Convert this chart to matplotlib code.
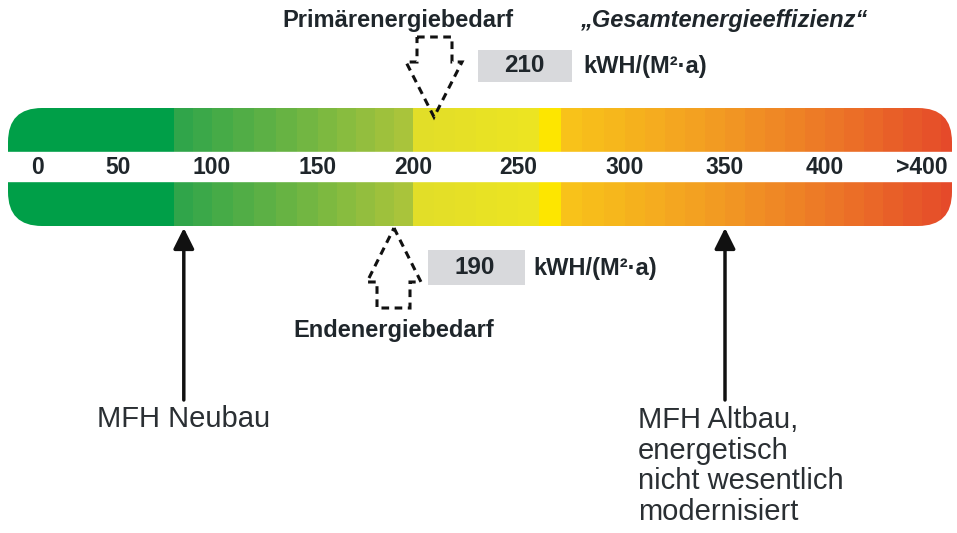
import numpy as np
import matplotlib
matplotlib.use("Agg")
import matplotlib.pyplot as plt
from matplotlib import transforms
from matplotlib.patches import FancyBboxPatch, Rectangle, Polygon
from matplotlib.colors import to_rgb, ListedColormap

# ---------------- data ----------------
tick_values = [0, 50, 100, 150, 200, 250, 300, 350, 400, 450]
tick_labels = ["0", "50", "100", "150", "200", "250", "300", "350", "400", ">400"]
primary_value = 210
final_value = 190
unit_label = "kWH/(M²·a)"
primary_title = "Primärenergiebedarf"
final_title = "Endenergiebedarf"
scale_title = "„Gesamtenergieeffizienz“"
building_values = [85, 350]
building_labels = ["MFH Neubau",
                   "MFH Altbau,\nenergetisch\nnicht wesentlich\nmodernisiert"]

# ---------------- layout / style ----------------
W, H = 957, 533
knot_values = [-24] + tick_values + [468]
knot_px = [0, 38, 118, 212, 318, 413, 518, 625, 725, 825, 922, 957]
color_stops = [(-30, "#009f48"), (80, "#009f48"), (85, "#30a54a"),
               (195, "#a9c43b"), (205, "#e2de28"), (255, "#ece422"),
               (265, "#fde600"), (275, "#f8c21a"), (345, "#f29b22"),
               (405, "#ec7527"), (470, "#e4462a")]
FONT = "Liberation Sans"
DARK = "#1f262b"
TICK_FS = 16.5
BOLD_FS = 17
NUM_FS = 17.5
BIG_FS = 21


def fwd(v):
    return np.interp(v, knot_values, knot_px)


def inv(p):
    return np.interp(p, knot_px, knot_values)


fig = plt.figure(figsize=(W / 100, H / 100), dpi=100)
ax = fig.add_axes([0, 0, 1, 1])
ax.set_xscale("function", functions=(fwd, inv))
ax.set_xlim(knot_values[0], knot_values[-1])
ax.set_ylim(H, 0)
ax.axis("off")

T_px = transforms.Affine2D().scale(1 / W, -1 / H).translate(0, 1) + fig.transFigure

# ---- gradient bar ----
edges = np.arange(-20, 471, 10)
centers = (edges[:-1] + edges[1:]) / 2
sv = np.array([s[0] for s in color_stops], float)
sc = np.array([to_rgb(s[1]) for s in color_stops])
cols = np.stack([np.interp(centers, sv, sc[:, i]) for i in range(3)], axis=1)
cmap = ListedColormap(cols)
mesh = ax.pcolormesh(edges, [108, 226], np.arange(len(centers))[None, :],
                     cmap=cmap, vmin=-0.5, vmax=len(centers) - 0.5,
                     shading="flat", antialiased=False, edgecolors="none")
clip = FancyBboxPatch((8, 108), 944, 118,
                      boxstyle="round,pad=0,rounding_size=34",
                      transform=T_px, facecolor="none", edgecolor="none")
mesh.set_clip_path(clip)
ax.axhspan(152, 181, color="white", zorder=2)

# ---- tick labels ----
for v, lab in zip(tick_values, tick_labels):
    ax.text(v, 168, lab, ha="center", va="center", fontsize=TICK_FS,
            fontweight="bold", family=FONT, color=DARK, zorder=3)

# ---- titles ----
ax.text(398, 21, primary_title, transform=T_px, ha="center", va="center",
        fontsize=BOLD_FS, fontweight="bold", family=FONT, color=DARK)
ax.text(724, 21, scale_title, transform=T_px, ha="center", va="center",
        fontsize=BOLD_FS, fontweight="bold", style="italic", family=FONT,
        color=DARK)
ax.text(394, 330, final_title, transform=T_px, ha="center", va="center",
        fontsize=BOLD_FS, fontweight="bold", family=FONT, color=DARK)

# ---- value boxes ----
ax.add_patch(Rectangle((478, 50), 94, 32, transform=T_px,
                       facecolor="#d8d9dc", edgecolor="none"))
ax.text(524, 66, str(primary_value), transform=T_px, ha="center", va="center",
        fontsize=NUM_FS, fontweight="bold", family=FONT, color=DARK)
ax.text(583, 67, unit_label, transform=T_px, ha="left", va="center",
        fontsize=BOLD_FS, fontweight="bold", family=FONT, color=DARK)

ax.add_patch(Rectangle((428, 250), 97, 35, transform=T_px,
                       facecolor="#d8d9dc", edgecolor="none"))
ax.text(475, 268, str(final_value), transform=T_px, ha="center", va="center",
        fontsize=NUM_FS, fontweight="bold", family=FONT, color=DARK)
ax.text(533, 268, unit_label, transform=T_px, ha="left", va="center",
        fontsize=BOLD_FS, fontweight="bold", family=FONT, color=DARK)

# ---- dashed arrows ----
sx = ax.xaxis.get_transform()
tp = sx.transform(np.array([float(primary_value)]))[0]
down = [(tp - 17, 37), (tp + 18, 37), (tp + 18, 62), (tp + 28, 62),
        (tp, 117), (tp - 28, 62), (tp - 17, 62)]
ax.add_patch(Polygon(down, closed=True, transform=T_px, fill=False,
                     edgecolor="#111111", lw=2.2, linestyle=(0, (2.5, 1.8)),
                     joinstyle="miter", zorder=4))
tf = sx.transform(np.array([float(final_value)]))[0]
up = [(tf, 228), (tf + 27, 282), (tf + 16, 282), (tf + 16, 308),
      (tf - 17, 308), (tf - 17, 282), (tf - 27, 282)]
ax.add_patch(Polygon(up, closed=True, transform=T_px, fill=False,
                     edgecolor="#111111", lw=2.2, linestyle=(0, (2.5, 1.8)),
                     joinstyle="miter", zorder=4))

# ---- solid arrows and building labels ----
for v in building_values:
    ax.annotate("", xy=(v, 228), xytext=(v, 400),
                arrowprops=dict(arrowstyle="-|>,head_length=0.7,head_width=0.35",
                                lw=2.5, color="#111111", mutation_scale=18,
                                shrinkA=0, shrinkB=0))
ax.text(building_values[0], 419, building_labels[0], ha="center", va="center",
        fontsize=BIG_FS, family=FONT, color="#2a2f33")
ax.text(638, 466, building_labels[1], transform=T_px, ha="left", va="center",
        fontsize=BIG_FS, family=FONT, color="#2a2f33", linespacing=1.12)

fig.savefig("out.png", dpi=100, facecolor="white")
